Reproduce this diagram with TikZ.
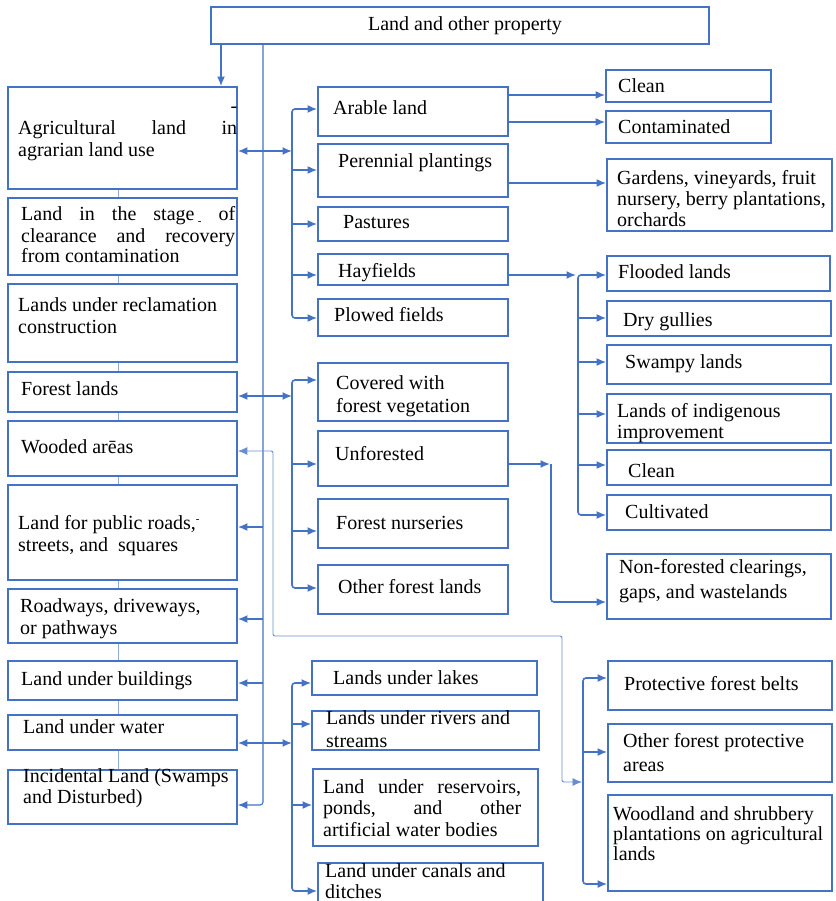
\documentclass[tikz,border=0pt]{standalone}
\usepackage{fontspec}
\setmainfont{Liberation Serif}
\usetikzlibrary{arrows.meta}
\definecolor{bl}{HTML}{4472C4}
\definecolor{lbl}{HTML}{8FAADC}
\tikzset{
  tip/.tip={Latex[length=9.5pt,width=8pt]},
  box/.style={draw=bl, line width=1.8pt, rectangle, inner sep=0pt, fill=white},
  txt/.style={anchor=base west, inner sep=0pt, font=\fontsize{20}{22}\selectfont},
  conn/.style={draw=bl, line width=1.6pt},
  arr/.style={conn, -tip},
  biarr/.style={conn, tip-tip},
  trunkln/.style={draw=bl, line width=1.1pt},
  thinln/.style={draw=bl!80, line width=0.9pt},
  link/.style={draw=lbl, line width=1pt},
}
\newcommand\bx[5]{\node[box, minimum width={(#4-#2)*1pt}, minimum height={(#5-#3)*1pt}] (#1) at ({(#2+#4)/2},{(#3+#5)/2}) {};}
\newcommand\tx[5]{\node[txt] (#1) at (#2,#3) {\vtop{\hsize=#4pt\parindent=0pt\raggedright #5}};}
\begin{document}
\begin{tikzpicture}[x=1pt,y=-1pt]
\useasboundingbox[fill=white] (0,0) rectangle (835,901);
% ---- boxes ----
\node[box, minimum width=498pt, minimum height=37pt, font=\fontsize{20}{22}\selectfont] (top) at (460,25.5) {\hspace*{10pt}Land and other property};
\bx{agri}{8}{87}{237}{189}
\bx{stage}{8}{198}{237}{275}
\bx{recl}{8}{284}{237}{362}
\bx{forest}{8}{372}{237}{412}
\bx{wooded}{8}{421}{237}{476}
\bx{pub}{8}{485}{237}{580}
\bx{road}{8}{589}{237}{643}
\bx{bld}{8}{661}{237}{700}
\bx{water}{8}{715}{237}{750}
\bx{inc}{8}{770}{237}{824}
\bx{arable}{318}{87}{508}{136}
\bx{peren}{318}{144}{508}{197}
\bx{past}{318}{207}{508}{241}
\bx{hay}{318}{254}{508}{285}
\bx{plow}{318}{299}{508}{336}
\bx{cov}{318}{363}{508}{421}
\bx{unf}{318}{431}{508}{486}
\bx{nurs}{318}{499}{508}{548}
\bx{ofl}{318}{565}{508}{614}
\bx{lakes}{312}{661}{537}{695}
\bx{rivers}{312}{711}{539}{750}
\bx{res}{313}{769}{538}{846}
\bx{canal}{318}{863}{543}{906}
\bx{cleanA}{606}{70}{771}{102}
\bx{contam}{606}{111}{771}{143}
\bx{gard}{607}{159}{832}{231}
\bx{flood}{607}{256}{830}{291}
\bx{dry}{607}{301}{831}{336}
\bx{swamp}{607}{345}{831}{384}
\bx{indig}{607}{394}{831}{443}
\bx{cleanB}{607}{450}{831}{485}
\bx{cult}{607}{495}{831}{530}
\bx{nonf}{607}{554}{831}{619}
\bx{pfb}{608}{661}{832}{710}
\bx{ofpa}{608}{724}{832}{782}
\bx{wood}{608}{795}{832}{891}
% ---- texts ----
\tx{agri-t}{18}{113}{219}{\hspace*{\fill}-\hspace*{12pt}\\Agricultural\hfill land\hfill in\\agrarian land use}
\tx{stage-t}{21}{221}{214}{\baselineskip=21pt Land\hfill in\hfill the\hfill stage\,{\fontsize{11}{11}\selectfont\raisebox{-4pt}{-}}\hfill of\\clearance\hfill and\hfill recovery\\from contamination}
\tx{recl-t}{18}{311}{250}{Lands under reclamation\\construction}
\tx{forest-t}{21}{395}{250}{Forest lands}
\tx{wooded-t}{21}{453}{250}{Wooded arēas}
\tx{pub-t}{18}{529}{250}{Land for public roads,\raisebox{7pt}{\fontsize{11}{11}\selectfont -}\\streets, and\ \ squares}
\tx{road-t}{20}{612}{250}{Roadways, driveways,\\or pathways}
\tx{bld-t}{21}{685}{250}{Land under buildings}
\tx{water-t}{23}{733}{250}{Land under water}
\tx{inc-t}{23}{782}{250}{\baselineskip=21pt Incidental Land (Swamps\\and Disturbed)}
\tx{arable-t}{333}{115}{250}{Arable land}
\tx{peren-t}{338}{168}{250}{Perennial plantings}
\tx{past-t}{343}{229}{250}{Pastures}
\tx{hay-t}{338}{277}{250}{Hayfields}
\tx{plow-t}{334}{321}{250}{Plowed fields}
\tx{cov-t}{336}{389}{250}{\baselineskip=23pt Covered with\\forest vegetation}
\tx{unf-t}{335}{460}{250}{Unforested}
\tx{nurs-t}{336}{529}{250}{Forest nurseries}
\tx{ofl-t}{338}{593}{250}{Other forest lands}
\tx{lakes-t}{333}{684}{250}{Lands under lakes}
\tx{rivers-t}{326}{724}{250}{\baselineskip=23pt Lands under rivers and\\streams}
\tx{res-t}{323}{793}{198}{\baselineskip=21.5pt Land\hfill under\hfill reservoirs,\\ponds,\hfill and\hfill other\\artificial water bodies}
\tx{canal-t}{325}{877}{250}{\baselineskip=21pt Land under canals and\\ditches}
\tx{cleanA-t}{618}{93}{250}{Clean}
\tx{contam-t}{618}{134}{250}{Contaminated}
\tx{gard-t}{617}{185}{250}{\baselineskip=21pt Gardens, vineyards, fruit\\nursery, berry plantations,\\orchards}
\tx{flood-t}{618}{278}{250}{Flooded lands}
\tx{dry-t}{623}{326}{250}{Dry gullies}
\tx{swamp-t}{625}{368}{250}{Swampy lands}
\tx{indig-t}{617}{417}{250}{\baselineskip=21pt Lands of indigenous\\improvement}
\tx{cleanB-t}{628}{477}{250}{Clean}
\tx{cult-t}{625}{518}{250}{Cultivated}
\tx{nonf-t}{619}{573}{250}{\baselineskip=25pt Non-forested clearings,\\gaps, and wastelands}
\tx{pfb-t}{624}{690}{250}{Protective forest belts}
\tx{ofpa-t}{623}{747}{250}{\baselineskip=24pt Other forest protective\\areas}
\tx{wood-t}{613}{820}{250}{\baselineskip=20pt Woodland and shrubbery\\plantations on agricultural\\lands}
% ---- links between left boxes ----
\foreach \a/\b in {agri/stage,stage/recl,recl/forest,forest/wooded,wooded/pub,pub/road,road/bld,bld/water,water/inc}
  \draw[link] (\a.south -| 118,0) -- (\b.north -| 118,0);
% ---- top connectors ----
\draw[arr] (top.south -| 221,0) -- (agri.north -| 221,0);
\draw[trunkln, rounded corners=3pt, -tip] (top.south -| 263,0) -- (263,805) -- (inc.east |- 0,805);
\draw[arr] (263,527) -- (pub.east |- 0,527);
\draw[arr] (263,619) -- (road.east |- 0,619);
\draw[arr] (263,683) -- (bld.east |- 0,683);
\draw[biarr] (agri.east |- 0,151) -- (292,151);
\draw[biarr] (forest.east |- 0,396) -- (292,396);
\draw[biarr] (water.east |- 0,743) -- (292,743);
% ---- agricultural branch ----
\draw[biarr, rounded corners=3pt] (arable.west |- 0,109) -- (292,109) -- (292,318) -- (plow.west |- 0,318);
\draw[arr] (292,170) -- (peren.west |- 0,170);
\draw[arr] (292,224) -- (past.west |- 0,224);
\draw[arr] (292,275) -- (hay.west |- 0,275);
% ---- forest branch ----
\draw[biarr, rounded corners=3pt] (cov.west |- 0,380) -- (292,380) -- (292,588) -- (ofl.west |- 0,588);
\draw[arr] (292,464) -- (unf.west |- 0,464);
\draw[arr] (292,531) -- (nurs.west |- 0,531);
% ---- water branch ----
\draw[biarr, rounded corners=3pt] (lakes.west |- 0,683) -- (292,683) -- (292,891) -- (canal.west |- 0,891);
\draw[arr] (292,724) -- (rivers.west |- 0,724);
\draw[arr] (292,805) -- (res.west |- 0,805);
% ---- right connectors ----
\draw[arr] (arable.east |- 0,95) -- (cleanA.west |- 0,95);
\draw[arr] (arable.east |- 0,122) -- (contam.west |- 0,122);
\draw[arr] (peren.east |- 0,183) -- (gard.west |- 0,183);
\draw[arr] (hay.east |- 0,275) -- (576,275);
\draw[biarr, rounded corners=3pt] (flood.west |- 0,275) -- (578,275) -- (578,515) -- (cult.west |- 0,515);
\draw[arr] (578,318) -- (dry.west |- 0,318);
\draw[arr] (578,362) -- (swamp.west |- 0,362);
\draw[arr] (578,414) -- (indig.west |- 0,414);
\draw[arr] (578,465) -- (cleanB.west |- 0,465);
\draw[arr] (unf.east |- 0,464) -- (550,464);
\draw[arr, rounded corners=3pt] (551,464) -- (551,602) -- (nonf.west |- 0,602);
% ---- wooded / protective ----
\draw[thinln, tip-tip, rounded corners=2pt] (wooded.east |- 0,451) -- (273,451) -- (273,636) -- (562,636) -- (562,782) -- (582,782);
\draw[biarr, rounded corners=3pt] (pfb.west |- 0,678) -- (583,678) -- (583,884) -- (wood.west |- 0,884);
\draw[arr] (583,752) -- (ofpa.west |- 0,752);
\end{tikzpicture}
\end{document}
